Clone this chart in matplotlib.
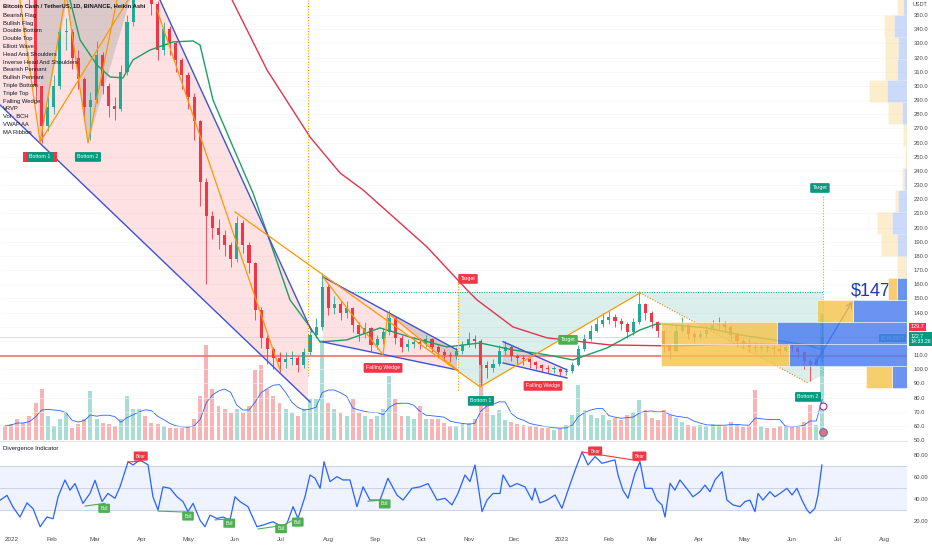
import numpy as np
import pandas as pd
import matplotlib
matplotlib.use("Agg")
import matplotlib.pyplot as plt
import matplotlib.dates as mdates
import matplotlib.transforms as mtransforms
from matplotlib.patches import Polygon, Rectangle

plt.rcParams['font.family'] = ['Liberation Sans Narrow', 'Liberation Sans', 'DejaVu Sans']

# ---------------- data (days counted from 2022-01-01) ----------------
candle_days = list(range(0, 537, 4))
closes = [430, 418, 395, 380, 372, 300, 272, 285, 300, 338,
          338, 320, 305, 285, 290, 322, 300, 286, 284, 310,
          345, 372, 388, 380, 358, 325, 340, 330, 318, 308,
          292, 275, 232, 208, 200, 195, 188, 178, 203, 188,
          175, 142, 122, 114, 108, 105, 107, 108, 103, 112,
          124, 130, 158, 143, 146, 140, 143, 131, 125, 129,
          117, 121, 126, 136, 122, 116, 118, 119, 118, 121,
          116, 112, 110, 109, 113, 117, 121, 120, 103, 101,
          104, 113, 116, 109, 108, 107, 105, 103, 101, 100,
          100, 98, 99, 103, 114, 121, 127, 132, 135, 137,
          134, 132, 126, 133, 146, 140, 133, 127, 117, 113,
          127, 131, 125, 123, 125, 128, 131, 132, 130, 124,
          120, 117, 116, 115, 116, 115, 114, 113, 116, 115,
          112, 106, 103, 107, 122.7]
highs = [440, 432, 420, 395, 385, 365, 300, 292, 308, 342,
         348, 340, 325, 306, 296, 332, 324, 302, 292, 315,
         350, 378, 400, 395, 382, 360, 345, 342, 332, 320,
         310, 295, 276, 235, 212, 206, 198, 190, 208, 205,
         190, 176, 144, 124, 116, 112, 112, 113, 109, 115,
         127, 136, 168, 160, 152, 148, 148, 144, 133, 133,
         130, 124, 129, 142, 137, 124, 121, 123, 122, 124,
         122, 117, 114, 112, 116, 120, 126, 124, 121, 106,
         107, 117, 120, 117, 111, 110, 108, 106, 104, 103,
         102, 101, 101, 105, 117, 125, 131, 136, 140, 141,
         139, 136, 133, 136, 155, 147, 141, 134, 128, 118,
         131, 137, 132, 127, 128, 131, 135, 137, 134, 131,
         126, 122, 122, 119, 119, 118, 117, 118, 119, 118,
         116, 113, 107, 110, 140]
lows = [420, 410, 385, 370, 355, 290, 260, 268, 280, 298,
        325, 312, 298, 275, 262, 288, 294, 278, 276, 282,
        308, 342, 368, 372, 350, 318, 322, 322, 310, 298,
        284, 262, 215, 160, 192, 185, 180, 172, 176, 182,
        168, 135, 115, 104, 100, 98, 101, 103, 98, 101,
        110, 122, 128, 138, 139, 135, 136, 126, 120, 122,
        113, 114, 118, 124, 118, 112, 113, 115, 114, 116,
        112, 108, 106, 105, 107, 111, 116, 115, 88, 94,
        98, 102, 110, 106, 104, 103, 101, 100, 98, 97,
        97, 95, 96, 97, 102, 113, 120, 126, 130, 132,
        130, 128, 122, 124, 132, 135, 129, 123, 112, 107,
        112, 126, 121, 119, 121, 123, 127, 128, 126, 120,
        116, 114, 112, 112, 113, 112, 111, 110, 112, 112,
        108, 100, 92, 102, 105]
volumes = [14, 16, 21, 17, 24, 37, 51, 24, 14, 21,
           27, 12, 16, 21, 49, 21, 17, 16, 14, 21,
           44, 31, 31, 24, 17, 16, 14, 12, 12, 12,
           14, 21, 44, 95, 51, 34, 31, 27, 31, 27,
           34, 70, 75, 51, 44, 37, 31, 27, 24, 31,
           41, 41, 100, 37, 31, 27, 24, 41, 27, 24,
           21, 24, 31, 64, 41, 24, 24, 21, 34, 21,
           21, 21, 17, 14, 14, 17, 17, 21, 75, 40,
           25, 30, 20, 18, 16, 15, 14, 13, 12, 12,
           10, 12, 15, 25, 55, 30, 25, 22, 25, 20,
           22, 20, 25, 28, 40, 30, 22, 20, 30, 25,
           22, 18, 15, 14, 15, 14, 16, 15, 14, 18,
           15, 13, 14, 50, 14, 12, 12, 14, 15, 13,
           14, 18, 35, 15, 125]

ma_green_days = [42.6, 49.2, 60.3, 68.9, 77.4, 83.9, 95.1, 110.2, 123.3, 127.9, 136.4, 149.5, 162.6,
                 171.8, 186.9, 198, 206.6, 224.3, 245.9, 267.5, 289.8, 311.5, 333.1, 355.4, 372.5,
                 394.8, 416.4, 427.5, 438, 460.3, 482, 503.6, 525.9, 536.4]
ma_green = [360.6, 332.4, 314.7, 306.3, 305.6, 318.3, 325.3, 331, 331.7, 328.8, 290, 256.9, 224.4,
            196.2, 148.9, 132.7, 119.2, 120.7, 129.1, 122.1, 115.7, 118.5, 113.6, 110.1, 106.5,
            115, 127.7, 132, 131.3, 129.1, 124.2, 120.7, 117.1, 113.6]
ma_red_days = [148.9, 171.8, 200, 219.7, 234.8, 276.7, 303, 309.5, 333.1, 355.4, 396.7, 438, 482, 536.4]
ma_red = [360.6, 311.2, 263.9, 238.5, 226.5, 186.3, 155.9, 148.9, 129.8, 122.1, 117.1, 116.4, 117.8, 117.1]

# volume profile rows (price bottom, down volume, up volume)
vp_bottom = [86.8, 102.3, 117.8, 133.3, 148.8, 164.3, 179.8, 195.3, 210.8, 226.3,
             241.8, 257.3, 272.8, 288.3, 303.8, 319.3, 334.8, 350.3]
vp_down = [26, 128, 116, 36, 9, 9, 16, 15, 3, 2, 1.5, 4, 14, 18, 12, 13, 10, 6]
vp_up = [15, 118, 130, 54, 10, 1, 10, 15, 9, 3, 0.3, 0.5, 5, 20, 10, 9, 13, 4]
vp_value_area = 5

osc_days = [-3.3, 1.3, 5.2, 9.8, 14.4, 18.4, 23, 27.5, 31.5, 34.8, 39.3, 42.6, 45.9, 51.1, 55.7, 59,
            63.6, 67.5, 72.1, 75.4, 80.7, 83.9, 88.5, 93.8, 97, 100.3, 103.6, 108.2, 112.8, 116.7,
            120, 123.3, 127.9, 131.1, 134.4, 139, 143, 147.5, 150.8, 154.1, 159.3, 165.2, 169.2,
            175.7, 181.6, 184.9, 188.9, 192.1, 196.7, 200, 203.3, 206.6, 209.2, 213.1, 217.7,
            221.6, 226.2, 230.8, 234.8, 239.3, 245.9, 251.1, 257, 261, 266.9, 272.1, 277.4, 283.3,
            288.5, 293.1, 297, 301.6, 304.9, 308.2, 312.8, 316.1, 320, 324.6, 326.6, 331.1, 335.7,
            341, 345.6, 347.5, 350.8, 355.4, 360.7, 365.2, 369.2, 373.8, 378.4, 382.3, 386.9,
            391.5, 395.4, 400, 402, 405.2, 408.5, 413.1, 416.4, 419.7, 424.3, 427.5, 430.8, 432.8,
            436.1, 439.3, 442.6, 447.9, 451.1, 455.7, 459, 462.3, 465.6, 470.2, 473.4, 477.4, 482,
            485.2, 488.5, 491.8, 493.8, 497, 501.6, 504.9, 508.2, 512.8, 516.1, 519.3, 522.6,
            525.9, 527.9, 531.1, 533.1, 535.7]
osc = [38.8, 43.3, 32.7, 23.6, 36.4, 31.2, 14.8, 23.6, 22, 42, 57.3, 48, 54, 36, 45, 57,
       37.6, 45, 40.6, 51, 73.9, 70.9, 75.5, 71, 42, 30, 51, 49.7, 42, 37.6,
       28.5, 36, 20.6, 14.8, 25.3, 22.3, 23.6, 20.6, 42, 37.6, 33, 14.8, 16.3,
       19.3, 14.8, 17.8, 33, 22.3, 42, 61.8, 58.8, 49.7, 73.9, 55.8, 60.3,
       57.3, 57.3, 33, 51, 39, 39, 58.8, 43.6, 39, 49.7, 51, 54, 39,
       40.6, 34.6, 45, 61.8, 55.8, 70.9, 28.5, 39, 45, 45, 61.8, 51, 54,
       51, 39, 49.7, 36.4, 39, 43.6, 31.5, 48, 66, 82.7, 70.9, 78.5,
       72.4, 73.9, 75.5, 61.8, 48, 40.6, 63.3, 73.9, 49.7, 49.7, 39, 34.6, 23.6,
       54.2, 48, 57.3, 48, 42, 46.6, 52.6, 46.6, 57.3, 64.8, 39, 34.6, 33,
       37.6, 39, 28.5, 45, 39, 46.6, 42, 45, 49.7, 43.6, 49.7, 39,
       30, 27, 31.5, 43.6, 70.9]

bull_lines = [[(52.5, 33.6), (65.6, 36)], [(100.3, 29), (120, 28)], [(137.7, 21), (147.5, 22)],
              [(166, 12.7), (180, 15.6)], [(181.6, 15.5), (192, 22.7)], [(238, 38), (248, 39)]]
bull_tags = [(65, 31.5), (120, 24.5), (147, 18), (181, 13), (192, 19), (249, 35.5)]
bear_lines = [[(80.7, 73.6), (89.8, 74.5)], [(378.4, 82.7), (416.4, 74.5)]]
bear_tags = [(89, 79), (387, 83.6), (416, 79)]

# drawn chart patterns (day, price)
blue_lines = [[(101.6, 360.6), (201.3, 126.3)], [(-3.3, 286.5), (200.0, 76.9)],
              [(208.5, 165.1), (296.4, 113.6)], [(208.5, 119.2), (296.4, 99.5)],
              [(326.6, 119.4), (368.5, 99.5)], [(326.6, 104.4), (368.5, 93.8)]]
orange_lines = [[(9.8, 360.6), (23, 260.4), (39.3, 360.6)], [(23, 260.4), (80.7, 360.6)],
                [(40.7, 360.6), (54.4, 259.7), (73.4, 360.6)], [(99.7, 353.5), (180.3, 99.5)],
                [(150.8, 211), (311.5, 87.5), (416.4, 153.8)],
                [(208.5, 165.1), (247.9, 110.1), (251.1, 139.7), (296.4, 99.5)]]
orange_dotted = [(416.4, 153.8), (526.6, 90.3)]
pink_areas = [[(-3.3, 360.6), (101.6, 360.6), (198.7, 132.4), (198.7, 78.2), (-3.3, 286.5)],
              [(208.5, 165.1), (296.4, 113.6), (296.4, 99.5), (208.5, 119.2)],
              [(326.6, 119.4), (368.5, 99.5), (368.5, 93.8), (326.6, 104.4)]]
gray_areas = [[(18.4, 360.6), (23, 260.4), (40.7, 360.6)], [(40.7, 360.6), (54.4, 259.7), (82, 360.6)],
              [(251.1, 139.7), (296.4, 113.6), (296.4, 99.5)]]
teal_area = [(297, 154.5), (297, 98.6), (311.5, 87.5), (416.4, 153.8), (526.6, 90.3), (536.4, 96), (536.4, 154.5)]
target_vlines = [(198.7, 95, 360.6), (297, 85, 161.6), (536.4, 96, 223)]
tags = [("Bottom 1", 23, 249.8, '#089981'), ("Bottom 2", 54.4, 249.8, '#089981'),
        ("Falling Wedge", 247.9, 100.9, '#f23645'), ("Falling Wedge", 352.8, 88.2, '#f23645'),
        ("Bottom 1", 312.1, 77.6, '#089981'), ("Bottom 2", 526.6, 80.4, '#089981'),
        ("Target", 303.6, 163.7, '#f23645'), ("Target", 369.2, 120.7, '#4caf50'),
        ("Target", 534.4, 227.9, '#089981')]
legend_items = ["Bearish Flag", "Bullish Flag", "Double Bottom", "Double Top", "Elliott Wave",
                "Head And Shoulders", "Inverse Head And Shoulders", "Bearish Pennant", "Bullish Pennant",
                "Triple Bottom", "Triple Top", "Falling Wedge", "VRVP", "Vol · BCH", "VWAP AA", "MA Ribbon"]
month_starts = pd.date_range('2022-01-01', '2023-08-01', freq='MS')

D0 = mdates.date2num(pd.Timestamp('2022-01-01'))
def dn(d):
    return D0 + np.asarray(d, dtype=float)

UP = '#22ab94'
DN = '#f23645'

W, H = 932, 550
fig = plt.figure(figsize=(W / 100, H / 100), dpi=100)
rect = [0, 110 / H, 907 / W, 440 / H]

ax_vol = fig.add_axes(rect)
ax = fig.add_axes(rect, sharex=ax_vol)
ax_vp = fig.add_axes(rect, sharey=ax)
ax_vol.set_zorder(1)
ax.set_zorder(2)
ax_vp.set_zorder(3)
ax.patch.set_visible(False)
ax_vp.patch.set_visible(False)

# candle opens from previous close
cl = np.array(closes, dtype=float)
opens = np.concatenate([[440.0], cl[:-1]])
hi = np.maximum(np.array(highs), np.maximum(opens, cl))
lo = np.minimum(np.array(lows), np.minimum(opens, cl))
xs = dn(candle_days)
up = cl >= opens
colors = np.where(up, UP, DN)

# volume
ax_vol.bar(xs, volumes, width=2.6, color=np.where(up, '#a8ddd4', '#f8b4b4'), zorder=1)
vma = pd.Series(volumes).rolling(5, min_periods=1).mean()
ax_vol.plot(xs, vma, color='#2962ff', lw=0.6, zorder=2)
ax_vol.set_ylim(0, 440)
ax_vol.axis('off')

# fills
for poly in pink_areas:
    pts = [(dn(d), p) for d, p in poly]
    ax.add_patch(Polygon(pts, closed=True, fc='#f23645', alpha=0.15, ec='none', zorder=1))
for poly in gray_areas:
    pts = [(dn(d), p) for d, p in poly]
    ax.add_patch(Polygon(pts, closed=True, fc='#9e9e9e', alpha=0.35, ec='none', zorder=1))
ax.add_patch(Polygon([(dn(d), p) for d, p in teal_area], closed=True, fc='#089981', alpha=0.15,
                     ec='none', zorder=1))
ax.plot(dn([226.2, 536.4]), [154.5, 154.5], color='#089981', lw=0.7, ls=(0, (1, 1.5)), zorder=2)

# horizontal levels
ax.axhline(109.3, color='#ef6f6f', lw=1.4, alpha=0.85, zorder=2)
ax.axhline(122.7, color='#d1d4dc', lw=0.6, zorder=2)

# candles
ax.vlines(xs, lo, hi, colors=colors, lw=0.6, zorder=3)
ax.bar(xs, np.maximum(np.abs(cl - opens), 0.6), bottom=np.minimum(opens, cl), width=2.0,
       color=colors, zorder=4)

# moving averages
ax.plot(dn(ma_green_days), ma_green, color='#1e9e62', lw=1.0, zorder=5)
ax.plot(dn(ma_red_days), ma_red, color='#e0344f', lw=1.0, zorder=5)

# pattern lines
for line in blue_lines:
    d, p = zip(*line)
    ax.plot(dn(d), p, color='#3f51d8', lw=1.0, zorder=6)
for line in orange_lines:
    d, p = zip(*line)
    ax.plot(dn(d), p, color='#ff9800', lw=0.9, zorder=6)
d, p = zip(*orange_dotted)
ax.plot(dn(d), p, color='#f57c00', lw=0.8, ls=(0, (1, 1.5)), zorder=6)
for d, p0, p1 in target_vlines:
    ax.plot(dn([d, d]), [p0, p1], color='#ff9800', lw=0.8, ls=(0, (1, 1.5)), zorder=6)

def tag(a, d, p, text, color, fs=3.8):
    a.text(dn(d), p, text, fontsize=fs, color='white', ha='center', va='center', zorder=9,
           bbox=dict(boxstyle='round,pad=0.45,rounding_size=0.2', fc=color, ec='none'))

# red label hidden under the first "Bottom 1"
ax.add_patch(Rectangle((dn(11.8), 246.3), 22.3, 7.0, fc='#f23645', ec='none', zorder=8))
for text, d, p, c in tags:
    tag(ax, d, p, text, c)

# arrow and target text
ax.annotate('', xy=(dn(556.7), 149.6), xytext=(dn(530), 101.6),
            arrowprops=dict(arrowstyle='->', color='#2a3fbf', lw=0.9), zorder=9)
ax.text(dn(567.5), 155.5, r'\$147', fontsize=13, color='#1c3bb0', ha='center', va='center', zorder=9)

# volume profile
vp_up_a = np.array(vp_up)
vp_dn_a = np.array(vp_down)
for i in range(len(vp_bottom)):
    al = 0.82 if i < vp_value_area else 0.28
    ax_vp.barh(vp_bottom[i], vp_up_a[i], left=0, height=15.5, align='edge', color='#4a7cf0',
               alpha=al, ec='white', lw=0.4)
    ax_vp.barh(vp_bottom[i], vp_dn_a[i], left=vp_up_a[i], height=15.5, align='edge', color='#f5c44e',
               alpha=al, ec='white', lw=0.4)
ax_vp.set_xlim(907, 0)
ax_vp.axis('off')

# axes cosmetics
ax.set_xlim(dn(-3.3), dn(591.5))
ax.set_ylim(50, 360.6)
for s in ax.spines.values():
    s.set_visible(False)
ax.yaxis.tick_right()
price_ticks = [v for v in range(50, 351, 10) if v not in (120, 130)]
ax.set_yticks(price_ticks)
ax.set_yticklabels([f"{v:.1f}" for v in price_ticks], fontsize=4.2, color='#4a4a4a')
ax.tick_params(axis='y', length=0, pad=5)
ax.tick_params(axis='x', length=0, labelbottom=False)
for g in np.arange(60, 351, 10):
    ax.axhline(g, color='#f3f4f6', lw=0.4, zorder=0)

tr = mtransforms.blended_transform_factory(ax.transAxes, ax.transData)
ax.text(1.006, 357.5, "USDT", transform=tr, fontsize=4.0, color='#4a4a4a', ha='left', va='center')
ax.text(1.004, 129.9, "129.7", transform=tr, fontsize=4.0, color='white', ha='left', va='center',
        bbox=dict(boxstyle='square,pad=0.3', fc='#f23645', ec='none'), zorder=10)
ax.text(1.004, 121.2, "122.7\n14:33:26", transform=tr, fontsize=3.8, color='white', ha='left',
        va='center', linespacing=1.1, bbox=dict(boxstyle='square,pad=0.3', fc='#089981', ec='none'),
        zorder=10)
ax.text(0.997, 121.8, "BCHUSDT", transform=tr, fontsize=3.6, color='white', ha='right', va='center',
        bbox=dict(boxstyle='square,pad=0.3', fc='#089981', ec='none'), zorder=10)

# small icons near last bar
ax.plot(dn(536.4), 73.8, marker='o', ms=5, mfc='white', mec='#9c27b0', mew=0.8, zorder=10)
ax.plot(dn(536.4), 55.7, marker='o', ms=5.5, mfc='#e57373', mec='#5c6bc0', mew=0.8, zorder=10)

# top-left legend
fig.text(3 / W, 1 - 6 / H, "Bitcoin Cash / TetherUS, 1D, BINANCE, Heikin Ashi", fontsize=4.2,
         color='#131722', ha='left', va='center', weight='bold')
for i, name in enumerate(legend_items):
    fig.text(3 / W, 1 - (15.3 + i * 7.8) / H, name, fontsize=4.2, color='#131722', ha='left', va='center')

# ---------------- oscillator panel ----------------
ax2 = fig.add_axes([0, 20 / H, 907 / W, 89 / H], sharex=ax_vol)
ax2.set_ylim(11.8, 92.7)
ax2.axhspan(30, 70, color='#2962ff', alpha=0.07, lw=0)
for lvl in (30, 50, 70):
    ax2.axhline(lvl, color='#c3cde6', lw=0.6)
ax2.plot(dn(osc_days), osc, color='#2962ff', lw=0.9, zorder=3)
for line in bull_lines:
    d, p = zip(*line)
    ax2.plot(dn(d), p, color='#4caf50', lw=0.8, zorder=4)
for line in bear_lines:
    d, p = zip(*line)
    ax2.plot(dn(d), p, color='#f23645', lw=0.8, zorder=4)
for d, p in bull_tags:
    tag(ax2, d, p, "Bull", '#4caf50', fs=3.3)
for d, p in bear_tags:
    tag(ax2, d, p, "Bear", '#f23645', fs=3.3)
ax2.text(0.003, 85.5, "Divergence Indicator", transform=mtransforms.blended_transform_factory(
    ax2.transAxes, ax2.transData), fontsize=4.3, color='#131722', ha='left', va='center')

for s in ('left', 'right', 'bottom'):
    ax2.spines[s].set_visible(False)
ax2.spines['top'].set_color('#e0e3eb')
ax2.spines['top'].set_linewidth(0.8)
ax2.yaxis.tick_right()
ax2.set_yticks([20, 40, 60, 80])
ax2.set_yticklabels(["20.00", "40.00", "60.00", "80.00"], fontsize=4.2, color='#4a4a4a')
ax2.tick_params(axis='y', length=0, pad=5)

month_labels = [str(m.year) if m.month == 1 else m.strftime('%b') for m in month_starts]
ax2.set_xticks(mdates.date2num(month_starts))
ax2.set_xticklabels(month_labels)
ax2.tick_params(axis='x', length=0, pad=5, labelsize=4.5, labelcolor='#4a4a4a')
ax2.get_xticklabels()[0].set_ha('left')
ax2.set_xlim(dn(-3.3), dn(591.5))

fig.savefig("out.png", dpi=100)
